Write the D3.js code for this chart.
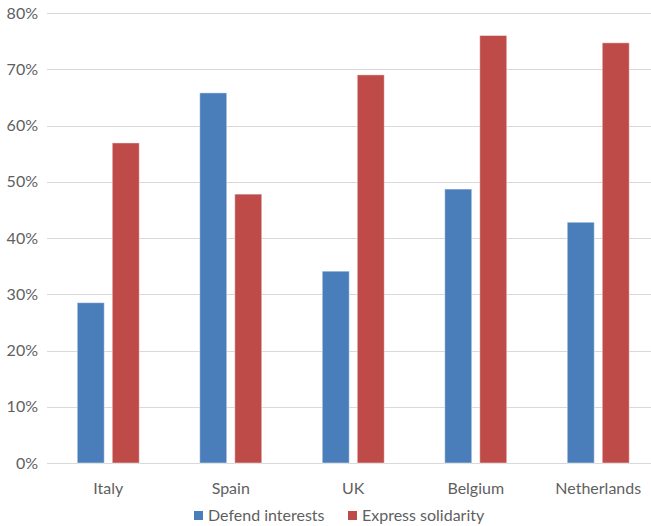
<!DOCTYPE html>
<html>
<head>
<meta charset="utf-8">
<script src="https://cdn.jsdelivr.net/npm/d3@7"></script>
<style>
  body { margin: 0; background: #fff; }
  text { font-family: Lato, "Open Sans", sans-serif; fill: #5f5f5f; }
</style>
</head>
<body>
<svg id="chart" width="651" height="526"></svg>
<script>
// Defend interests vs express solidarity, by country
var countries = ['Italy', 'Spain', 'UK', 'Belgium', 'Netherlands']
var defend = [0.285, 0.658, 0.341, 0.487, 0.428]
var solidarity = [0.569, 0.478, 0.690, 0.760, 0.747]
var seriesNames = ['Defend interests', 'Express solidarity']
var colors = ['#4a7ebb', '#be4b48']
var yTicks = [0, 0.1, 0.2, 0.3, 0.4, 0.5, 0.6, 0.7, 0.8]

var svg = d3.select('#chart'),
	margin = {top: 13, left: 47, bottom: 63},
	height = +svg.attr('height') - margin.top - margin.bottom

// the plot area runs a little past the right edge (cropped)
var x = d3.scaleBand().domain(countries).range([margin.left, margin.left + 612.5])
var x1 = d3.scaleBand().domain(seriesNames).range([x.bandwidth() / 2 - 31, x.bandwidth() / 2 + 31]).paddingInner(0.229)
var y = d3.scaleLinear().domain([0, 0.8]).range([margin.top + height, margin.top])

// gridlines
svg.append('g').selectAll('line').data(yTicks)
	.enter().append('line')
	.attr('x1', margin.left).attr('x2', 651)
	.attr('y1', function(d) { return Math.round(y(d)) + 0.5 })
	.attr('y2', function(d) { return Math.round(y(d)) + 0.5 })
	.attr('stroke', '#d9d9d9')

// y labels
svg.append('g').selectAll('text').data(yTicks)
	.enter().append('text')
	.attr('x', 38).attr('y', function(d) { return y(d) })
	.attr('dy', '0.35em').attr('text-anchor', 'end')
	.style('font-size', '16px')
	.text(d3.format('.0%'))

// bars
var rows = countries.map(function(c, i) { return {country: c, values: [defend[i], solidarity[i]]} })
var groups = svg.append('g').selectAll('g').data(rows)
	.enter().append('g')
	.attr('transform', function(d) { return 'translate(' + x(d.country) + ',0)' })

groups.selectAll('rect').data(function(d) { return d.values.map(function(v, j) { return {name: seriesNames[j], value: v, j: j} }) })
	.enter().append('rect')
	.attr('x', function(d) { return x1(d.name) })
	.attr('width', x1.bandwidth())
	.attr('y', function(d) { return y(d.value) })
	.attr('height', function(d) { return y(0) - y(d.value) })
	.attr('fill', function(d) { return colors[d.j] })
	.attr('stroke', 'rgba(255,255,255,0.45)')
	.attr('stroke-width', 1)

// x labels
svg.append('g').selectAll('text').data(countries)
	.enter().append('text')
	.attr('x', function(d) { return x(d) + x.bandwidth() / 2 })
	.attr('y', 488).attr('dy', '0.35em')
	.attr('text-anchor', 'middle')
	.style('font-size', '16px')
	.text(function(d) { return d })

// legend
var legendX = [194, 348]
var legend = svg.append('g').selectAll('g').data(seriesNames)
	.enter().append('g')
	.attr('transform', function(d, i) { return 'translate(' + legendX[i] + ',511)' })
legend.append('rect').attr('width', 9).attr('height', 9)
	.attr('fill', function(d, i) { return colors[i] })
legend.append('text').attr('x', 14).attr('y', 4.5).attr('dy', '0.35em')
	.style('font-size', '16px')
	.text(function(d) { return d })
</script>
</body>
</html>
